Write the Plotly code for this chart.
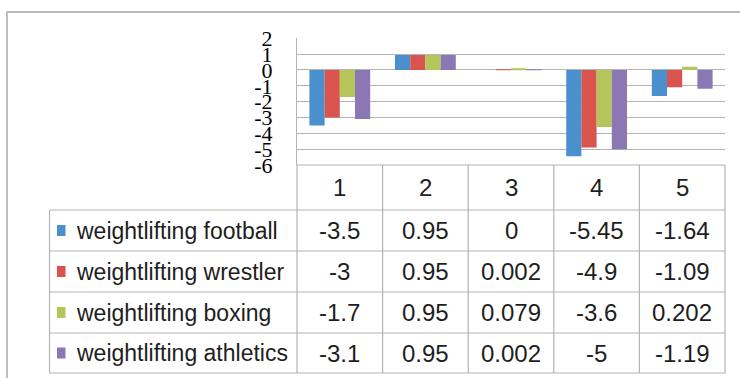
import plotly.graph_objects as go

# ---- data ----
categories = [1, 2, 3, 4, 5]
series_names = ["weightlifting football", "weightlifting wrestler",
                "weightlifting boxing", "weightlifting athletics"]
football = [-3.5, 0.95, 0, -5.45, -1.64]
wrestler = [-3, 0.95, 0.002, -4.9, -1.09]
boxing = [-1.7, 0.95, 0.079, -3.6, 0.202]
athletics = [-3.1, 0.95, 0.002, -5, -1.19]
series_values = [football, wrestler, boxing, athletics]
colors = ["#4A90CC", "#D9534F", "#B5C55A", "#8B77B3"]
ytick_vals = [2, 1, 0, -1, -2, -3, -4, -5, -6]
ytick_text = ["2", "1", "0", "-1", "-2", "-3", "-4", "-5", "-6"]

# ---- layout geometry (pixels) ----
W, H = 740, 378
def px(x):
    return x / W
def py(y):
    return 1 - y / H

plot_l, plot_r = 297, 725
plot_top, plot_bot = 38.3, 165
table_l = 49.5
row_edges = [165, 210, 251, 292, 333, 373]
line_col = "#B4B4B4"
txt_col = "#1E1E1E"
tfont = dict(family="Liberation Sans, Arial", size=24, color=txt_col)
lfont = dict(family="Liberation Sans, Arial", size=23, color=txt_col)

fig = go.Figure()
for name, vals, c in zip(series_names, series_values, colors):
    fig.add_trace(go.Bar(x=categories, y=vals, name=name,
                         marker=dict(color=c, line=dict(width=0)),
                         showlegend=False))

shapes = []
annotations = []

# outer chart border
shapes.append(dict(type="rect", xref="paper", yref="paper",
                   x0=px(7), x1=px(760), y0=py(12), y1=py(400),
                   line=dict(color="#BDBDBD", width=2)))

# table horizontal lines
for i, ye in enumerate(row_edges):
    x0 = plot_l if i == 0 else table_l
    shapes.append(dict(type="line", xref="paper", yref="paper",
                       x0=px(x0), x1=px(plot_r), y0=py(ye), y1=py(ye),
                       line=dict(color=line_col, width=1.2)))
# table vertical lines
shapes.append(dict(type="line", xref="paper", yref="paper",
                   x0=px(table_l), x1=px(table_l), y0=py(row_edges[1]), y1=py(row_edges[-1]),
                   line=dict(color=line_col, width=1.2)))
shapes.append(dict(type="line", xref="paper", yref="paper",
                   x0=px(plot_l), x1=px(plot_l), y0=py(row_edges[0]), y1=py(row_edges[-1]),
                   line=dict(color=line_col, width=1.2)))
ncat = len(categories)
cat_w = (plot_r - plot_l) / ncat
for k in range(1, ncat + 1):
    xe = plot_l + k * cat_w
    shapes.append(dict(type="line", xref="paper", yref="paper",
                       x0=px(xe), x1=px(xe), y0=py(row_edges[0]), y1=py(row_edges[-1]),
                       line=dict(color=line_col, width=1.2)))

# header numbers
hy = (row_edges[0] + row_edges[1]) / 2
for cat in categories:
    annotations.append(dict(x=cat, xref="x", y=py(hy), yref="paper", text=str(cat),
                            showarrow=False, font=tfont, xanchor="center", yanchor="middle"))

# rows: legend key, label, values
for r, (name, vals, c) in enumerate(zip(series_names, series_values, colors)):
    yc = (row_edges[r + 1] + row_edges[r + 2]) / 2
    shapes.append(dict(type="rect", xref="paper", yref="paper",
                       x0=px(57), x1=px(65.5), y0=py(yc - 5.5), y1=py(yc + 5.5),
                       fillcolor=c, line=dict(width=0)))
    annotations.append(dict(x=px(74), xref="paper", y=py(yc), yref="paper", text=name,
                            showarrow=False, font=lfont, xanchor="left", yanchor="middle"))
    for cat, v in zip(categories, vals):
        annotations.append(dict(x=cat, xref="x", y=py(yc), yref="paper", text=f"{v:g}",
                                showarrow=False, font=tfont, xanchor="center", yanchor="middle"))

fig.update_layout(
    width=W, height=H,
    margin=dict(l=0, r=0, t=0, b=0),
    paper_bgcolor="white", plot_bgcolor="white",
    barmode="group", bargap=0.29, bargroupgap=0,
    xaxis=dict(domain=[px(plot_l), px(plot_r)], range=[0.5, 5.5],
               showticklabels=False, showgrid=False, zeroline=False, showline=False,
               automargin=False),
    yaxis=dict(domain=[py(plot_bot), py(plot_top)], range=[-6, 2],
               tickvals=ytick_vals, ticktext=ytick_text,
               showgrid=True, gridcolor=line_col, gridwidth=1.2,
               zeroline=True, zerolinecolor=line_col, zerolinewidth=1.2,
               showline=True, linecolor=line_col, linewidth=1.2,
               ticks="", ticklabelstandoff=19, automargin=False,
               tickfont=dict(family="Liberation Sans Narrow, Arial Narrow", size=22, color="black")),
    shapes=shapes, annotations=annotations,
)

fig.write_html("out.html")
